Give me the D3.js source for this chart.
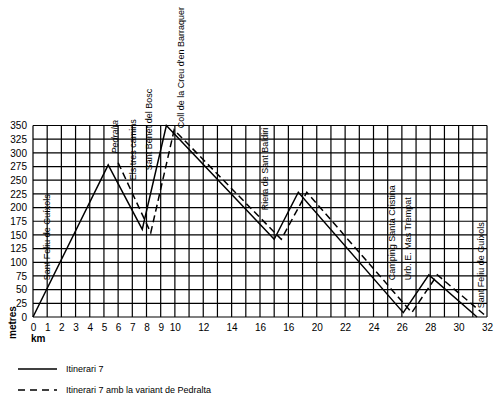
<!DOCTYPE html>
<html lang="ca">
<head>
<meta charset="UTF-8">
<title>Itinerari 7</title>
<script src="https://d3js.org/d3.v7.min.js"></script>
<style>
  body { margin: 0; background: #fff; }
  svg { font-family: "Liberation Sans", Arial, sans-serif; }
</style>
</head>
<body>
<script>
  const WIDTH = 500;
  const HEIGHT = 398;

  // profile: km, metres
  const itinerari7Km = [0, 5.3, 7.7, 9.4, 17.0, 18.7, 26.1, 27.9, 31.3];
  const itinerari7Alt = [0, 278, 160, 350, 142, 228, 8, 77, 0];

  const pedraltaKm = [6.0, 8.3, 9.95, 17.5, 19.3, 26.7, 28.5, 32];
  const pedraltaAlt = [282, 154, 342, 142, 228, 8, 77, 0];

  const xTicks = [0, 1, 2, 3, 4, 5, 6, 7, 8, 9, 10, 12, 14, 16, 18, 20, 22, 24, 26, 28, 30, 32];
  const xTickLabels = ['0', '1', '2', '3', '4', '5', '6', '7', '8', '9', '10', '12', '14', '16', '16', '20', '22', '24', '26', '28', '30', '32'];
  const yTicks = d3.range(0, 351, 25);

  const placeNames = ['Sant Feliu de Guíxols', 'Pedralta', 'Els tres camins', 'Sant Benet del Bosc',
    "Coll de la Creu d'en Barraquer", 'Riera de Sant Baldiri', 'Camping Santa Cristina',
    'Urb. E. Mas Trempat', 'Sant Feliu de Guíxols'];
  const placeKm = [1.0, 5.8, 7.05, 8.17, 10.43, 16.35, 25.3, 26.43, 31.57];
  const placeAlt = [67, 299, 250, 268, 345, 195, 67, 67, 16];

  const legendLabels = ['Itinerari 7', 'Itinerari 7 amb la variant de Pedralta'];

  const x = d3.scaleLinear().domain([0, 32]).range([33, 487]);
  const y = d3.scaleLinear().domain([0, 350]).range([317, 125.5]);

  const svg = d3.select('body').append('svg')
    .attr('width', WIDTH)
    .attr('height', HEIGHT);

  // grid
  const grid = svg.append('g').attr('stroke', '#000').attr('stroke-width', 1.2);
  grid.selectAll('line.v')
    .data(d3.range(0, 33))
    .enter().append('line')
    .attr('x1', d => x(d)).attr('x2', d => x(d))
    .attr('y1', y(0)).attr('y2', y(350));
  grid.selectAll('line.h')
    .data(yTicks)
    .enter().append('line')
    .attr('x1', x(0)).attr('x2', x(32))
    .attr('y1', d => y(d)).attr('y2', d => y(d));

  // axes (labels only)
  const xAxis = d3.axisBottom(x)
    .tickValues(xTicks)
    .tickFormat((d, i) => xTickLabels[i])
    .tickSize(0)
    .tickPadding(7);
  const gx = svg.append('g')
    .attr('transform', `translate(0, ${y(0)})`)
    .call(xAxis);
  gx.select('.domain').remove();
  gx.selectAll('text').attr('font-size', 10).attr('font-family', null).attr('fill', '#000');

  const yAxis = d3.axisLeft(y)
    .tickValues(yTicks)
    .tickSize(0)
    .tickPadding(6);
  const gy = svg.append('g')
    .attr('transform', `translate(${x(0)}, 0)`)
    .call(yAxis);
  gy.select('.domain').remove();
  gy.selectAll('text').attr('font-size', 10).attr('font-family', null).attr('fill', '#000');

  svg.append('text')
    .attr('transform', `translate(16, 339) rotate(-90)`)
    .attr('font-size', 10).attr('font-weight', 'bold')
    .text('metres');
  svg.append('text')
    .attr('x', 31).attr('y', 342)
    .attr('font-size', 10).attr('font-weight', 'bold')
    .text('km');

  // profiles
  const line = d3.line().x(d => x(d[0])).y(d => y(d[1]));
  svg.append('path')
    .datum(d3.zip(pedraltaKm, pedraltaAlt))
    .attr('d', line)
    .attr('fill', 'none')
    .attr('stroke', '#000')
    .attr('stroke-width', 1.5)
    .attr('stroke-dasharray', '7,4');
  svg.append('path')
    .datum(d3.zip(itinerari7Km, itinerari7Alt))
    .attr('d', line)
    .attr('fill', 'none')
    .attr('stroke', '#000')
    .attr('stroke-width', 1.5);

  // place names
  svg.selectAll('text.place')
    .data(placeNames)
    .enter().append('text')
    .attr('class', 'place')
    .attr('transform', (d, i) => `translate(${x(placeKm[i])}, ${y(placeAlt[i])}) rotate(-90)`)
    .attr('dy', '0.35em')
    .attr('font-size', 9)
    .attr('font-style', (d, i) => i === 1 ? 'italic' : 'normal')
    .text(d => d);

  // legend
  const legend = svg.append('g');
  legend.selectAll('line')
    .data(legendLabels)
    .enter().append('line')
    .attr('x1', 18).attr('x2', 57)
    .attr('y1', (d, i) => 369 + i * 21).attr('y2', (d, i) => 369 + i * 21)
    .attr('stroke', '#000').attr('stroke-width', 1.5)
    .attr('stroke-dasharray', (d, i) => i === 1 ? '7,5' : null);
  legend.selectAll('text')
    .data(legendLabels)
    .enter().append('text')
    .attr('x', 66).attr('y', (d, i) => 369 + i * 21)
    .attr('dy', '0.35em')
    .attr('font-size', 9)
    .text(d => d);
</script>
</body>
</html>
